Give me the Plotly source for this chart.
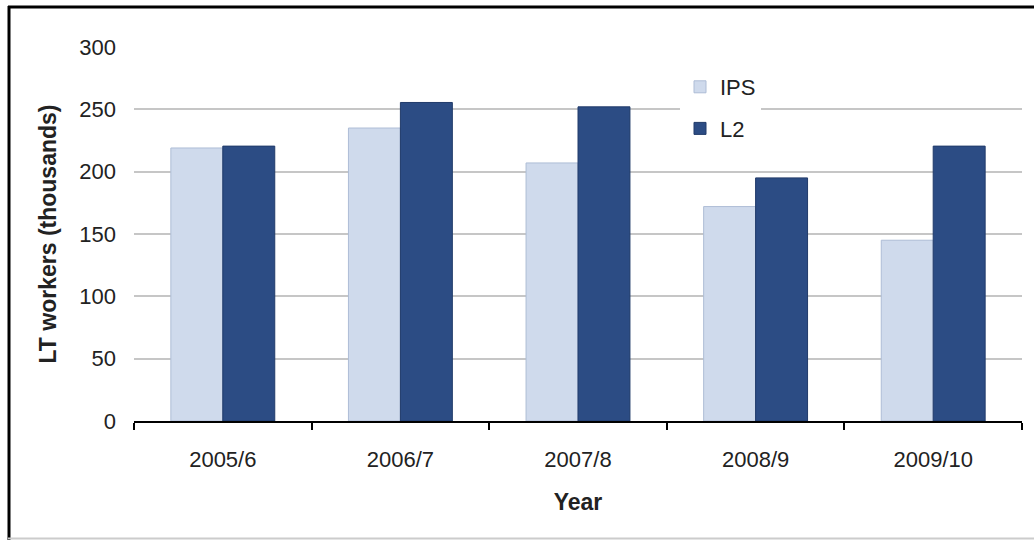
import plotly.graph_objects as go

categories = ["2005/6", "2006/7", "2007/8", "2008/9", "2009/10"]
ips_values = [219, 235, 207, 172, 145]
l2_values = [220.5, 255.5, 252, 195, 220.5]
y_ticks = [0, 50, 100, 150, 200, 250, 300]

W, H = 1034, 540
L, R, T, B = 134, 12, 47, 119
pw, ph = W - L - R, H - T - B

def px_x(p):
    return (p - L) / pw

def px_y(p):
    return (H - B - p) / ph

FONT = "Liberation Sans, Arial, sans-serif"
TXT = "#222222"

fig = go.Figure()
fig.add_trace(go.Bar(
    name="IPS", x=categories, y=ips_values, legendgroup="a",
    marker=dict(color="#cfdaec", line=dict(color="#aebdd6", width=1)),
))
fig.add_trace(go.Bar(
    name="L2", x=categories, y=l2_values, legendgroup="b",
    marker=dict(color="#2c4c84", line=dict(color="#213b6a", width=1)),
))

fig.update_layout(
    width=W, height=H,
    margin=dict(l=L, r=R, t=T, b=B, autoexpand=False),
    paper_bgcolor="white", plot_bgcolor="white",
    barmode="group", bargap=0.415, bargroupgap=0,
    font=dict(family=FONT, size=22, color=TXT),
    showlegend=True,
    legend=dict(
        x=px_x(680), y=px_y(66), xanchor="left", yanchor="top",
        bgcolor="white", borderwidth=0, tracegroupgap=10,
        font=dict(family=FONT, size=22, color=TXT),
        traceorder="grouped", itemwidth=30,
    ),
    xaxis=dict(
        showline=True, linecolor="black", linewidth=2,
        ticks="outside", tickson="boundaries", ticklen=7, tickwidth=2, tickcolor="black",
        ticklabelstandoff=18,
        showgrid=False, fixedrange=True,
        tickfont=dict(family=FONT, size=22, color=TXT),
        title=dict(text="<b>Year</b>", standoff=22, font=dict(family=FONT, size=23, color=TXT)),
    ),
    yaxis=dict(
        range=[0, 300], tickvals=y_ticks, showline=False,
        showgrid=True, gridcolor="#c6c6c6", gridwidth=2, zeroline=False,
        ticks="", ticklabelstandoff=17,
        tickfont=dict(family=FONT, size=22, color=TXT),
        title=dict(text="<b>LT workers (thousands)</b>", standoff=16,
                   font=dict(family=FONT, size=23, color=TXT)),
    ),
    shapes=[
        dict(type="line", xref="paper", yref="paper", x0=px_x(9), x1=px_x(9),
             y0=px_y(6), y1=px_y(540), line=dict(color="black", width=3)),
        dict(type="line", xref="paper", yref="paper", x0=px_x(8), x1=px_x(1034),
             y0=px_y(7), y1=px_y(7), line=dict(color="black", width=3)),
        dict(type="line", xref="paper", yref="paper", x0=px_x(8), x1=px_x(1034),
             y0=px_y(538.5), y1=px_y(538.5), line=dict(color="#cccccc", width=2)),
    ],
)

fig.write_html("out.html")
